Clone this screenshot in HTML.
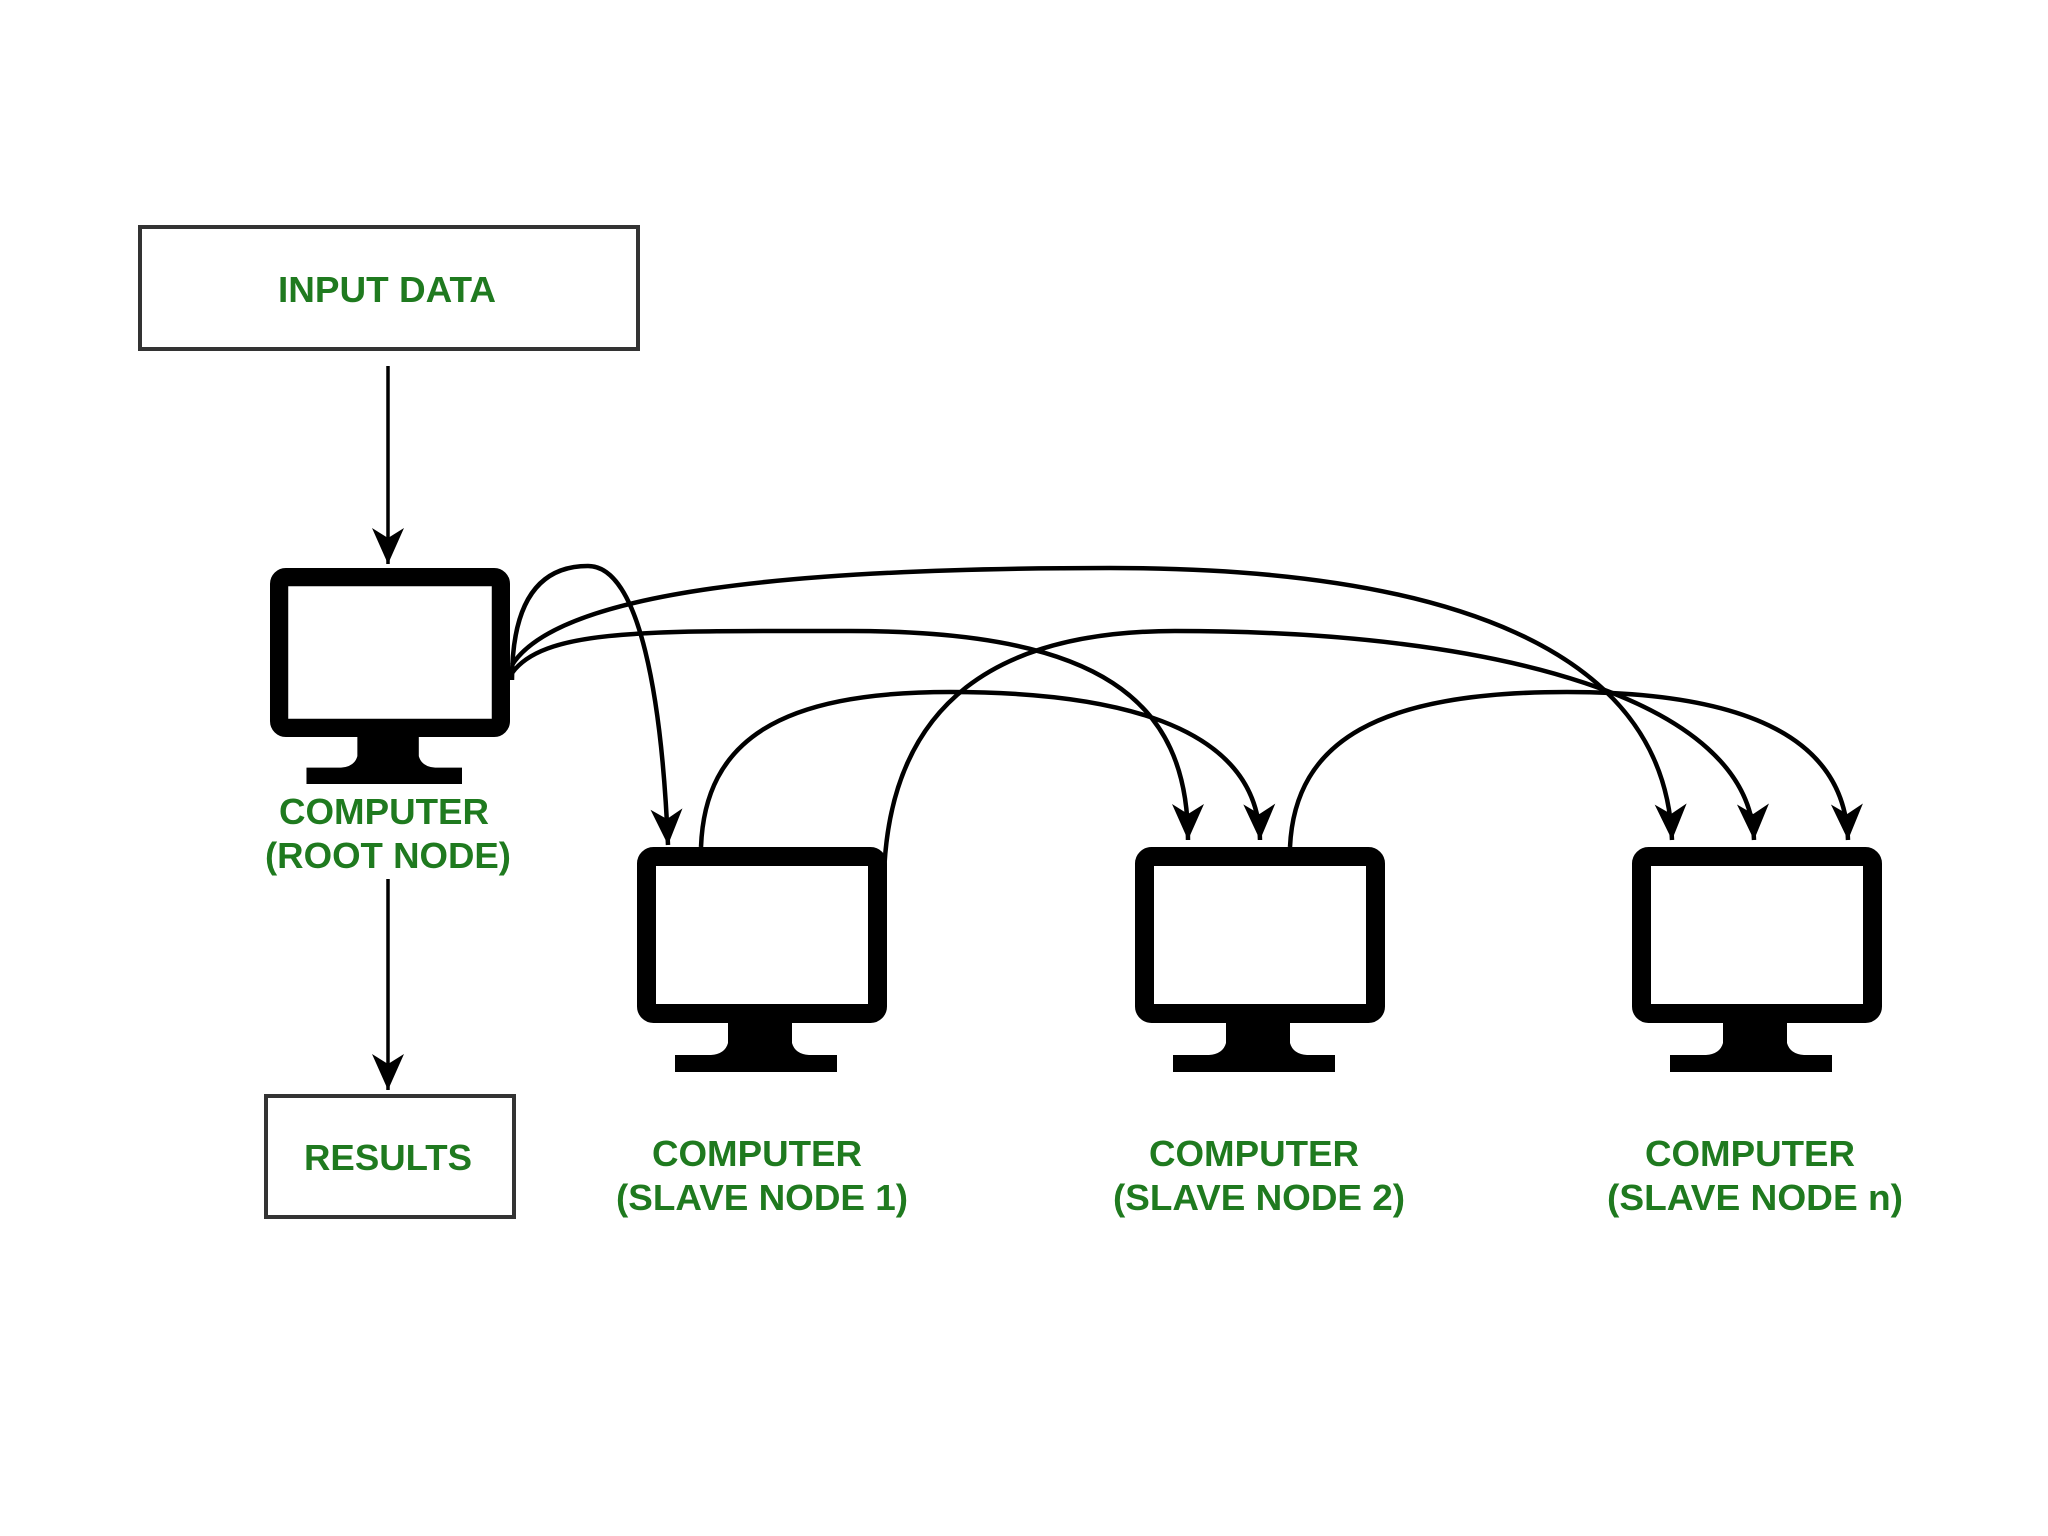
<!DOCTYPE html>
<html><head><meta charset="utf-8"><style>html,body{margin:0;padding:0;background:#fff}svg{display:block}</style></head>
<body>
<svg width="2048" height="1536" viewBox="0 0 2048 1536" xmlns="http://www.w3.org/2000/svg">
<defs>
<marker id="ah" markerUnits="userSpaceOnUse" markerWidth="40" markerHeight="40" refX="36" refY="18" orient="auto">
<path d="M0,2 L36,18 L0,34 L10,18 Z" fill="#000"/>
</marker>
<g id="mon">
<rect x="9.5" y="9.5" width="231" height="157" rx="7" fill="#fff" stroke="#000" stroke-width="19"/>
<path d="M91,175 L155,175 L155,196 Q158,207 172,208 L200,208 L200,225 L38,225 L38,208 L74,208 Q88,207 91,196 Z" fill="#000"/>
</g>
</defs>
<g font-family="Liberation Sans, Arial, sans-serif" font-size="36" font-weight="bold" fill="#1f7a1f" text-anchor="middle" lengthAdjust="spacingAndGlyphs">
<rect x="140" y="227" width="498" height="122" fill="#fff" stroke="#333" stroke-width="4"/>
<text x="387" y="302" textLength="218" lengthAdjust="spacingAndGlyphs">INPUT DATA</text>
<rect x="266" y="1096" width="248" height="121" fill="#fff" stroke="#333" stroke-width="4"/>
<text x="388" y="1170" textLength="168" lengthAdjust="spacingAndGlyphs">RESULTS</text>
<text x="384" y="824" textLength="210" lengthAdjust="spacingAndGlyphs">COMPUTER</text>
<text x="388" y="868" textLength="246" lengthAdjust="spacingAndGlyphs">(ROOT NODE)</text>
<text x="757" y="1166" textLength="210" lengthAdjust="spacingAndGlyphs">COMPUTER</text>
<text x="762" y="1210" textLength="292" lengthAdjust="spacingAndGlyphs">(SLAVE NODE 1)</text>
<text x="1254" y="1166" textLength="210" lengthAdjust="spacingAndGlyphs">COMPUTER</text>
<text x="1259" y="1210" textLength="292" lengthAdjust="spacingAndGlyphs">(SLAVE NODE 2)</text>
<text x="1750" y="1166" textLength="210" lengthAdjust="spacingAndGlyphs">COMPUTER</text>
<text x="1755" y="1210" textLength="296" lengthAdjust="spacingAndGlyphs">(SLAVE NODE n)</text>
</g>
<use href="#mon" transform="translate(270,568) scale(0.96)"/>
<use href="#mon" x="637" y="847"/>
<use href="#mon" x="1135" y="847"/>
<use href="#mon" x="1632" y="847"/>
<g fill="none" stroke="#000" stroke-width="4.5">
<path d="M388,366 L388,564" marker-end="url(#ah)" stroke-width="3.5"/>
<path d="M388,879 L388,1090" marker-end="url(#ah)" stroke-width="3.5"/>
<path d="M512,680 C512,600 540,566 588,566 C640,566 662,700 668,845" marker-end="url(#ah)"/>
<path d="M512,673 C545,628 650,631 850,631 C1100,631 1188,700 1188,840" marker-end="url(#ah)"/>
<path d="M512,665 C560,590 800,568 1110,568 C1450,568 1665,650 1672,840" marker-end="url(#ah)"/>
<path d="M701,847 C705,740 780,692 950,692 C1150,692 1258,740 1260,840" marker-end="url(#ah)"/>
<path d="M884,875 C890,700 1000,631 1175,631 C1500,631 1750,700 1754,840" marker-end="url(#ah)"/>
<path d="M1290,847 C1295,740 1380,692 1567,692 C1750,692 1845,740 1848,840" marker-end="url(#ah)"/>
</g>
</svg>
</body></html>
